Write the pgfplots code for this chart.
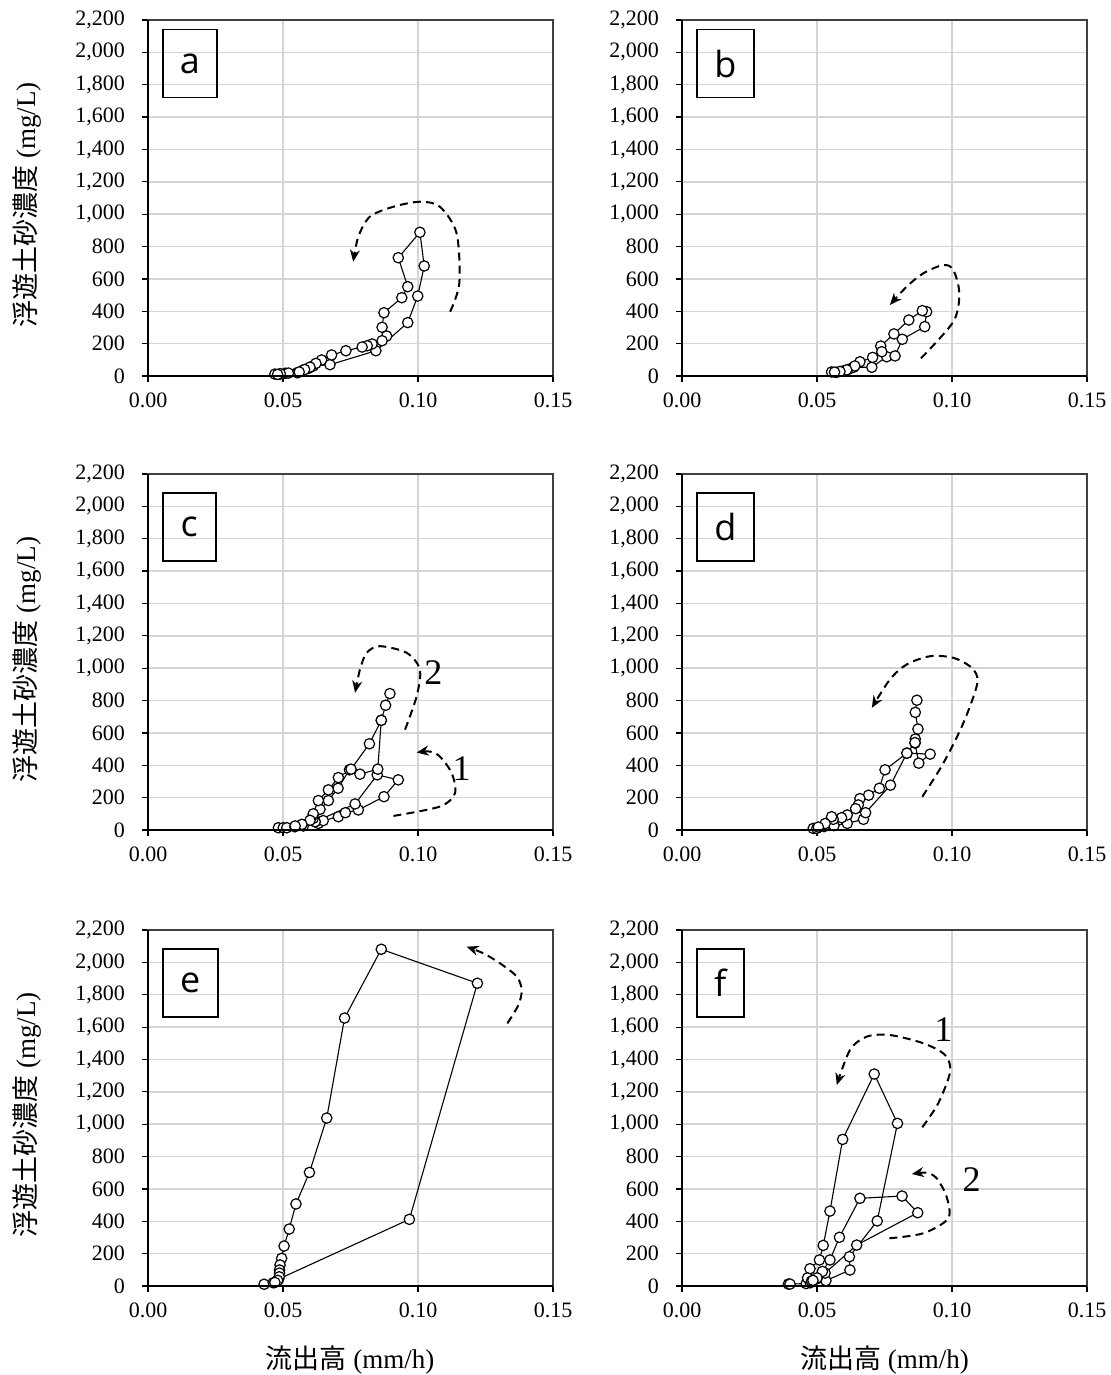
\documentclass[border=0pt]{standalone}
\usepackage{fontspec}
\setmainfont{Liberation Serif}
\newfontfamily\cjk{Noto Sans CJK JP}
\newfontfamily\lett{Open Sans}
\usepackage{pgfplots}
\pgfplotsset{compat=1.18}
\usetikzlibrary{arrows.meta}

\tikzset{
  lab/.style={draw=black, line width=0.8pt, anchor=north west, minimum height=34pt, inner sep=0pt,
    font=\lett\fontsize{18}{21}\selectfont},
}
\pgfplotsset{
  panel/.style={
    scale only axis, width=202.5pt, height=178pt,
    xmin=0, xmax=0.15, ymin=0, ymax=2200,
    xtick={0,0.05,0.1,0.15}, ytick={0,200,...,2200},
    grid=major, major grid style={draw=black!17, line width=0.75pt},
    tick pos=left, tick align=outside, major tick length=3pt,
    tick style={black, line width=0.6pt},
    axis line style={draw=black!75, line width=0.6pt},
    /pgf/number format/assume math mode=true,
    xticklabel style={/pgf/number format/.cd, fixed, fixed zerofill, precision=2, /tikz/.cd, yshift=-2pt},
    yticklabel style={/pgf/number format/.cd, fixed, 1000 sep={,}, /tikz/.cd, xshift=-5pt},
    ticklabel style={font=\fontsize{11}{13}\selectfont},
    clip=false,
    anchor=south west,
    after end axis/.code={
      \draw[black, line width=0.9pt] (rel axis cs:0,1) -- (rel axis cs:0,0) -- (rel axis cs:1,0);
    },
  },
  dat/.style={black, line width=0.55pt, mark=*, mark size=2.6pt,
    mark options={fill=white, draw=black, line width=0.6pt, solid}},
  arr/.style={black, line width=1pt, dash pattern=on 4pt off 2.6pt, smooth, no marks, forget plot,
    -{Stealth[length=6pt, width=5pt]}},
}

\begin{document}
\begin{tikzpicture}
\useasboundingbox (0,0) rectangle (555pt,-687.5pt);

% ---------- a ----------
\begin{axis}[panel, at={(74pt,-188pt)}]
\addplot[dat] coordinates {(0.0470,12) (0.0489,12) (0.0509,17) (0.0553,20) (0.0575,37) (0.0594,47) (0.0612,62) (0.0674,70) (0.0844,156) (0.0962,330) (0.0999,494) (0.1023,680) (0.1007,888) (0.0927,731) (0.0962,552) (0.0940,484) (0.0874,391) (0.0867,301) (0.0884,247) (0.0867,218) (0.0830,198) (0.0812,187) (0.0793,179) (0.0733,156) (0.0680,130) (0.0643,99) (0.0622,78) (0.0600,55) (0.0580,40) (0.0560,25) (0.0520,18) (0.0490,14) (0.0480,10)};
\addplot[arr] coordinates {(0.1119,397) (0.1153,573) (0.1143,882) (0.1081,1046) (0.1007,1077) (0.0909,1046) (0.0822,985) (0.0779,861) (0.0760,706)};
\node[lab, minimum width=27pt] at (rel axis cs:0.0346,0.975) {a};
\end{axis}

% ---------- b ----------
\begin{axis}[panel, at={(341pt,-188pt)}]
\addplot[dat] coordinates {(0.0554,25) (0.0573,23) (0.0597,31) (0.0616,41) (0.0635,54) (0.0703,54) (0.0758,119) (0.0789,124) (0.0816,227) (0.0899,305) (0.0906,397) (0.0890,404) (0.0840,346) (0.0785,260) (0.0736,185) (0.0740,150) (0.0706,115) (0.0659,88) (0.0640,62) (0.0610,38) (0.0585,28) (0.0565,24)};
\addplot[arr] coordinates {(0.0885,109) (0.1005,336) (0.1027,511) (0.1005,655) (0.0968,686) (0.0894,635) (0.0832,552) (0.0770,439)};
\node[lab, minimum width=28.5pt] at (rel axis cs:0.0346,0.975) {b};
\end{axis}

% ---------- c ----------
\begin{axis}[panel, at={(74pt,-415pt)}]
\addplot[dat] coordinates {(0.0483,14) (0.0501,14) (0.0514,14) (0.0544,20) (0.0575,25) (0.0631,41) (0.0649,58) (0.0705,82) (0.0731,107) (0.0779,124) (0.0874,206) (0.0927,310) (0.0849,341) (0.0767,161) (0.0619,51)};
\addplot[dat] coordinates {(0.0619,51) (0.0612,72) (0.0612,93) (0.0637,128) (0.0668,182) (0.0704,258) (0.0746,372) (0.0785,345) (0.0851,376) (0.0864,678) (0.0880,771) (0.0896,843)};
\addplot[dat] coordinates {(0.0864,678) (0.0820,533) (0.0752,376) (0.0705,324) (0.0668,248) (0.0631,182) (0.0612,100) (0.0600,60) (0.0570,35) (0.0545,25)};
\addplot[arr] coordinates {(0.0952,620) (0.0995,827) (0.1007,992) (0.0958,1095) (0.0859,1136) (0.0810,1095) (0.0785,992) (0.0767,848)};
\addplot[arr] coordinates {(0.0909,87) (0.1081,145) (0.1137,227) (0.1125,351) (0.1081,454) (0.1044,485) (0.0995,479)};
\node[font=\fontsize{18}{20}\selectfont] at (axis cs:0.1057,971) {2};
\node[font=\fontsize{18}{20}\selectfont] at (axis cs:0.1162,382) {1};
\node[lab, minimum width=26.5pt] at (rel axis cs:0.0346,0.949) {c};
\end{axis}

% ---------- d ----------
\begin{axis}[panel, at={(341pt,-415pt)}]
\addplot[dat] coordinates {(0.0486,10) (0.0499,10) (0.0526,21) (0.0563,27) (0.0612,41) (0.0672,66) (0.0680,107) (0.0772,277) (0.0833,475) (0.0919,469) (0.0877,413) (0.0863,537) (0.0864,562) (0.0874,624) (0.0864,727) (0.0870,802)};
\addplot[dat] coordinates {(0.0863,540) (0.0833,475) (0.0752,372) (0.0731,258) (0.0691,215) (0.0659,194) (0.0653,155) (0.0643,132) (0.0612,93) (0.0591,76) (0.0560,66) (0.0554,82) (0.0530,40) (0.0505,18)};
\addplot[arr] coordinates {(0.0890,206) (0.0968,413) (0.1042,661) (0.1094,909) (0.1073,1002) (0.1005,1064) (0.0919,1074) (0.0832,1023) (0.0770,930) (0.0703,755)};
\node[lab, minimum width=28.5pt] at (rel axis cs:0.0346,0.949) {d};
\end{axis}

% ---------- e ----------
\begin{axis}[panel, at={(74pt,-643pt)}]
\addplot[dat] coordinates {(0.0430,11) (0.0464,20) (0.0484,43) (0.0968,412) (0.1220,1871) (0.0864,2081) (0.0728,1656) (0.0662,1038) (0.0598,702) (0.0548,507) (0.0523,352) (0.0504,247) (0.0495,171) (0.0489,130) (0.0487,99) (0.0487,80) (0.0486,57) (0.0480,35) (0.0470,22)};
\addplot[arr] coordinates {(0.1331,1623) (0.1372,1737) (0.1384,1829) (0.1366,1912) (0.1304,1994) (0.1242,2056) (0.1180,2097)};
\node[lab, minimum width=27.5pt] at (rel axis cs:0.0346,0.949) {e};
\end{axis}

% ---------- f ----------
\begin{axis}[panel, at={(341pt,-643pt)}]
\addplot[dat] coordinates {(0.0394,12) (0.0400,12) (0.0460,15) (0.0475,20) (0.0533,33) (0.0622,99) (0.0620,181) (0.0723,402) (0.0798,1005) (0.0712,1310) (0.0595,906) (0.0548,463) (0.0523,251) (0.0509,161) (0.0474,107) (0.0465,50) (0.0480,30)};
\addplot[dat] coordinates {(0.0480,30) (0.0500,45) (0.0530,80) (0.0647,253) (0.0873,453) (0.0815,556) (0.0659,542) (0.0583,301) (0.0548,161) (0.0520,90) (0.0500,50) (0.0485,35)};
\addplot[arr] coordinates {(0.0890,981) (0.0949,1129) (0.0993,1324) (0.0974,1428) (0.0894,1500) (0.0770,1551) (0.0684,1541) (0.0622,1458) (0.0573,1242)};
\addplot[arr] coordinates {(0.0768,295) (0.0894,326) (0.0986,418) (0.0980,552) (0.0943,666) (0.0906,700) (0.0851,692)};
\node[font=\fontsize{18}{20}\selectfont] at (axis cs:0.0968,1582) {1};
\node[font=\fontsize{18}{20}\selectfont] at (axis cs:0.1073,655) {2};
\node[lab, minimum width=23.5pt] at (rel axis cs:0.0346,0.949) {f};
\end{axis}

% ---------- axis titles ----------
\foreach \yy in {-102.5pt,-329.75pt,-557.5pt}{
  \node[rotate=90, font=\fontsize{13.5}{16}\selectfont] at (13.5pt,\yy) {{\cjk 浮遊土砂濃度} (mg/L)};
}
\node[font=\fontsize{13.5}{16}\selectfont] at (175pt,-680.25pt) {{\cjk 流出高} (mm/h)};
\node[font=\fontsize{13.5}{16}\selectfont] at (442.25pt,-680.25pt) {{\cjk 流出高} (mm/h)};
\end{tikzpicture}
\end{document}
